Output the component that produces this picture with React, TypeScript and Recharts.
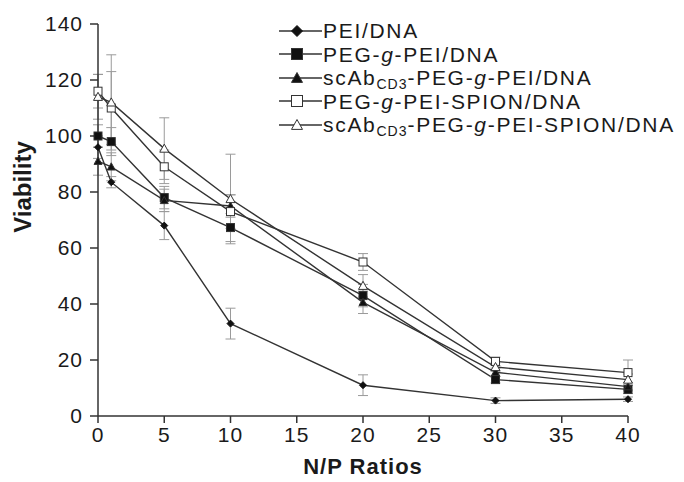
import React from 'react';
import { LineChart, Line, XAxis, YAxis, ErrorBar } from 'recharts';

const ratios = [0, 1, 5, 10, 20, 30, 40];

const pei = [96, 83.5, 68, 33, 11, 5.5, 6];
const peiErr = [4, 2, 5, 5.5, 3.7, 1, 0.8];

const pegPei = [100, 98, 78, 67.3, 43, 13, 9.5];
const pegPeiErr = [4, 5, 4, 5, 4, 1.2, 1.5];

const scAbPegPei = [91, 89, 77, 75, 40.6, 15.6, 10.5];
const scAbPegPeiErr = [5, 5, 4, 4, 4, 1.5, 1.5];

const pegPeiSpion = [116, 110, 89, 73, 55, 19.5, 15.5];
const pegPeiSpionErr = [6, 13, 6, 6, 3, 1.5, 4.5];

const scAbPegPeiSpion = [114, 112, 95.5, 77.5, 46.5, 17.5, 13];
const scAbPegPeiSpionErr = [8, 17, 11, 16, 4, 1.5, 2];

const xTicks = [0, 5, 10, 15, 20, 25, 30, 35, 40];
const yTicks = [0, 20, 40, 60, 80, 100, 120, 140];

const data = ratios.map((r, i) => ({
  ratio: r,
  pei: pei[i],
  peiErr: peiErr[i],
  pegPei: pegPei[i],
  pegPeiErr: pegPeiErr[i],
  scAbPegPei: scAbPegPei[i],
  scAbPegPeiErr: scAbPegPeiErr[i],
  pegPeiSpion: pegPeiSpion[i],
  pegPeiSpionErr: pegPeiSpionErr[i],
  scAbPegPeiSpion: scAbPegPeiSpion[i],
  scAbPegPeiSpionErr: scAbPegPeiSpionErr[i],
}));

const FONT = "'Liberation Sans', Arial, sans-serif";
const LINE = '#333';
const ERR = '#9a9a9a';

type Shape = 'diamond' | 'square' | 'triangle' | 'openSquare' | 'openTriangle';

function markerPath(shape: Shape, cx: number, cy: number, s: number) {
  const h = s / 2;
  if (shape === 'diamond') {
    return <path d={`M${cx},${cy - h}L${cx + h},${cy}L${cx},${cy + h}L${cx - h},${cy}Z`} fill="#111" stroke="#111" />;
  }
  if (shape === 'square' || shape === 'openSquare') {
    const open = shape === 'openSquare';
    return (
      <rect x={cx - h} y={cy - h} width={s} height={s} fill={open ? '#fff' : '#111'} stroke="#333" strokeWidth={1} />
    );
  }
  const open = shape === 'openTriangle';
  return (
    <path
      d={`M${cx},${cy - h}L${cx + h},${cy + h * 0.8}L${cx - h},${cy + h * 0.8}Z`}
      fill={open ? '#fff' : '#111'}
      stroke="#333"
      strokeWidth={1}
    />
  );
}

const dotFor = (shape: Shape, size: number) => (props: any) => {
  const { cx, cy, index } = props;
  if (cx == null || cy == null) return <g key={index} />;
  return <g key={`${shape}-${index}`}>{markerPath(shape, cx, cy, size)}</g>;
};

const subStyle: React.CSSProperties = { fontSize: 14, lineHeight: 0, verticalAlign: '-4px', letterSpacing: 1 };

const legendRows: { shape: Shape; label: React.ReactNode }[] = [
  { shape: 'diamond', label: 'PEI/DNA' },
  { shape: 'square', label: <>PEG-<i>g</i>-PEI/DNA</> },
  { shape: 'triangle', label: <>scAb<span style={subStyle}>CD3</span>-PEG-<i>g</i>-PEI/DNA</> },
  { shape: 'openSquare', label: <>PEG-<i>g</i>-PEI-SPION/DNA</> },
  { shape: 'openTriangle', label: <>scAb<span style={subStyle}>CD3</span>-PEG-<i>g</i>-PEI-SPION/DNA</> },
];

function LegendBox() {
  return (
    <div
      style={{
        position: 'absolute',
        left: 279,
        top: 19,
        fontFamily: FONT,
        fontSize: 21,
        letterSpacing: 1.7,
        color: '#1a1a1a',
      }}
    >
      {legendRows.map((row, i) => (
        <div key={i} style={{ display: 'flex', alignItems: 'center', height: 23.5, whiteSpace: 'nowrap' }}>
          <svg width={44} height={20} style={{ flex: 'none' }}>
            <line x1={0} y1={10} x2={43} y2={10} stroke={LINE} strokeWidth={1.5} />
            {markerPath(row.shape, 18, 10, 11)}
          </svg>
          <span style={{ marginLeft: 0, lineHeight: '21px' }}>{row.label}</span>
        </div>
      ))}
    </div>
  );
}

const series: { key: string; err: string; shape: Shape; size: number }[] = [
  { key: 'pei', err: 'peiErr', shape: 'diamond', size: 7 },
  { key: 'pegPei', err: 'pegPeiErr', shape: 'square', size: 8 },
  { key: 'scAbPegPei', err: 'scAbPegPeiErr', shape: 'triangle', size: 8 },
  { key: 'pegPeiSpion', err: 'pegPeiSpionErr', shape: 'openSquare', size: 8 },
  { key: 'scAbPegPeiSpion', err: 'scAbPegPeiSpionErr', shape: 'openTriangle', size: 9 },
];

const tickStyle = { fill: '#1a1a1a', fontSize: 21, fontFamily: FONT, letterSpacing: 1 };

export default function App() {
  return (
    <div style={{ position: 'absolute', left: 0, top: 0, width: 684, height: 482, background: '#fff' }}>
      <LineChart width={684} height={482} data={data} margin={{ top: 24, right: 56, left: 0, bottom: 0 }}>
        <XAxis
          type="number"
          dataKey="ratio"
          domain={[0, 40]}
          ticks={xTicks}
          tick={tickStyle}
          tickSize={7}
          tickMargin={4}
          height={66}
          axisLine={{ stroke: '#333', strokeWidth: 1.5 }}
          tickLine={{ stroke: '#333', strokeWidth: 1.5 }}
          label={{
            value: 'N/P Ratios',
            position: 'insideBottom',
            offset: 8,
            style: { fontFamily: FONT, fontSize: 22, fontWeight: 'bold', fill: '#1a1a1a', letterSpacing: 1 },
          }}
        />
        <YAxis
          domain={[0, 140]}
          ticks={yTicks}
          tick={tickStyle}
          tickSize={8}
          tickMargin={7}
          width={98}
          axisLine={{ stroke: '#333', strokeWidth: 1.5 }}
          tickLine={{ stroke: '#333', strokeWidth: 1.5 }}
          label={{
            position: 'insideLeft',
            content: () => (
              <text
                x={22}
                y={187}
                transform="rotate(-90 22 187)"
                textAnchor="middle"
                dominantBaseline="central"
                style={{ fontFamily: FONT, fontSize: 24, fontWeight: 'bold', fill: '#1a1a1a' }}
              >
                Viability
              </text>
            ),
          }}
        />
        {series.map((s) => (
          <Line
            key={s.key}
            type="linear"
            dataKey={s.key}
            stroke={LINE}
            strokeWidth={1.4}
            dot={dotFor(s.shape, s.size)}
            activeDot={false}
            isAnimationActive={false}
          >
            <ErrorBar dataKey={s.err} width={5} stroke={ERR} strokeWidth={1} direction="y" />
          </Line>
        ))}
      </LineChart>
      <LegendBox />
    </div>
  );
}
